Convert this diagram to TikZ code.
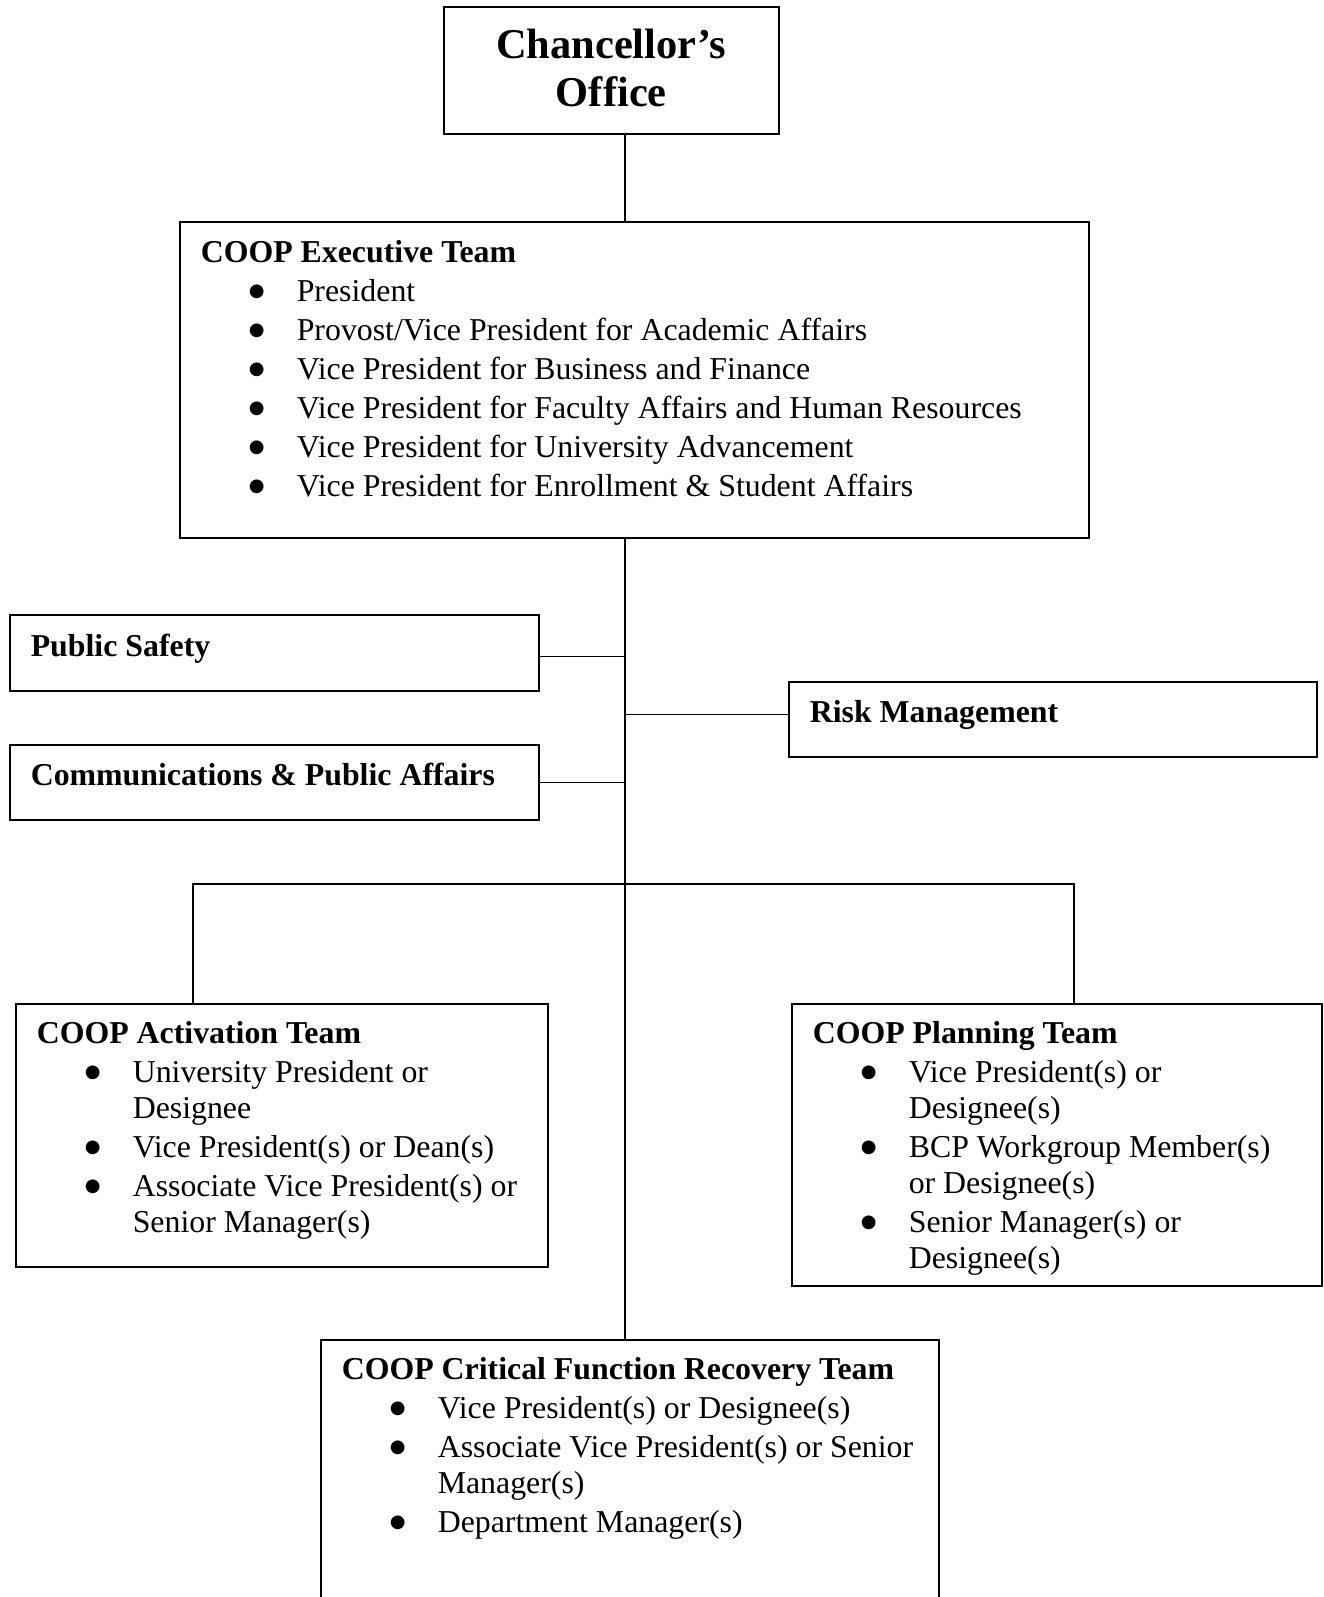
\documentclass[tikz,border=0pt]{standalone}
\usepackage{fontspec}
\setmainfont{Liberation Serif}
\newfontfamily\symfont{DejaVu Sans}

\newlength{\px}
\setlength{\px}{0.377pt}
% width, height, first baseline, content
\newcommand{\boxtext}[4]{\begin{minipage}[t][#2\px][t]{#1\px}\fontsize{12}{13.57}\selectfont\rule{0pt}{#3\px}#4\end{minipage}}
\newcommand{\dotmark}{\makebox[14\px][c]{\raisebox{1.9pt}{\symfont\fontsize{6.8}{8}\selectfont ●}}}
\newenvironment{members}{\begin{list}{\dotmark}{%
  \setlength{\leftmargin}{96\px}\setlength{\labelwidth}{14\px}%
  \setlength{\labelsep}{33\px}\setlength{\itemsep}{3\px}%
  \setlength{\parsep}{0pt}\setlength{\topsep}{3\px}\setlength{\partopsep}{0pt}}}%
  {\end{list}}

\begin{document}
\begin{tikzpicture}[x=0.377pt, y=-0.377pt,
  box/.style={draw, line width=0.6pt, anchor=north west, inner xsep=21\px, inner ysep=0pt},
  link/.style={line width=0.45pt}]

  % page
  \useasboundingbox (0,0) rectangle (1323,1597);
  \clip (0,0) rectangle (1323,1597);

  % top
  \node[box, inner xsep=0pt] (chancellor) at (443,6)
    {\begin{minipage}[t][127\px][t]{335\px}\centering\fontsize{16}{18.1}\selectfont\bfseries
     \rule{0pt}{52\px}Chancellor’s\\Office\end{minipage}};

  \node[box] (exec) at (179,221) {\boxtext{867}{316}{41}{\textbf{COOP Executive Team}
    \begin{members}
      \item President
      \item Provost/Vice President for Academic Affairs
      \item Vice President for Business and Finance
      \item Vice President for Faculty Affairs and Human Resources
      \item Vice President for University Advancement
      \item Vice President for Enrollment \& Student Affairs
    \end{members}}};

  % side boxes
  \node[box] (safety) at (9,614) {\boxtext{487}{76}{42}{\textbf{Public Safety}}};
  \node[box] (comms) at (9,744) {\boxtext{487}{75}{41}{\textbf{Communications \& Public Affairs}}};
  \node[box] (risk) at (788,681) {\boxtext{486}{75}{41}{\textbf{Risk Management}}};

  % teams
  \node[box] (activation) at (15,1003) {\boxtext{490}{263}{40}{\textbf{COOP Activation Team}
    \begin{members}
      \item University President or\newline Designee
      \item Vice President(s) or Dean(s)
      \item Associate Vice President(s) or\newline Senior Manager(s)
    \end{members}}};

  \node[box] (planning) at (791,1003) {\boxtext{488}{282}{40}{\textbf{COOP Planning Team}
    \begin{members}
      \item Vice President(s) or\newline Designee(s)
      \item BCP Workgroup Member(s)\newline or Designee(s)
      \item Senior Manager(s) or\newline Designee(s)
    \end{members}}};

  \node[box] (critical) at (320,1339) {\boxtext{576}{300}{40}{\textbf{COOP Critical Function Recovery Team}
    \begin{members}
      \item Vice President(s) or Designee(s)
      \item Associate Vice President(s) or Senior\newline Manager(s)
      \item Department Manager(s)
    \end{members}}};

  % connectors
  \coordinate (trunk) at (625,0);
  \coordinate (actdrop) at (193,884);
  \coordinate (plandrop) at (1074,884);
  \draw[link] (chancellor.south -| trunk) -- (exec.north -| trunk);
  \draw[link] (exec.south -| trunk) -- (critical.north -| trunk);
  \draw[link] ([yshift=-4\px]safety.east) -- ([yshift=-4\px]safety.east -| trunk);
  \draw[link] (comms.east) -- (comms.east -| trunk);
  \draw[link] ([yshift=5\px]risk.west) -- ([yshift=5\px]risk.west -| trunk);
  \draw[link] (activation.north -| actdrop) -- (actdrop) -- (plandrop) -- (plandrop |- planning.north);

\end{tikzpicture}
\end{document}
